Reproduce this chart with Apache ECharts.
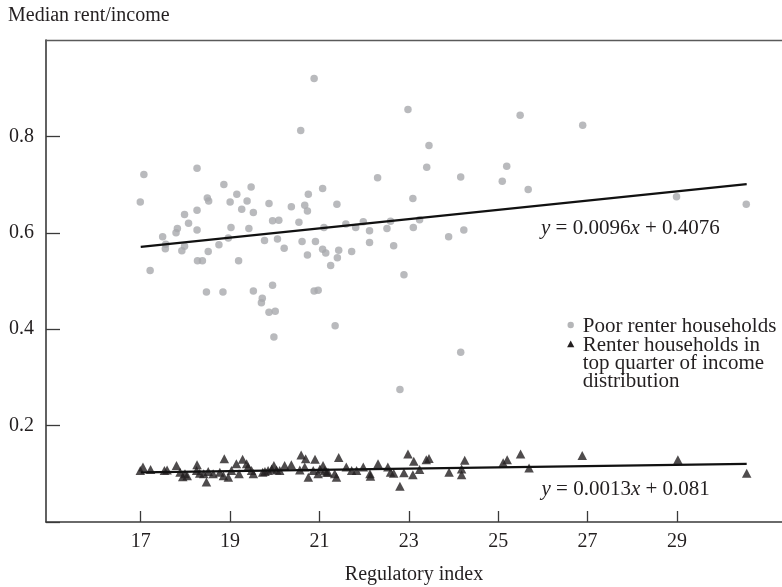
<!DOCTYPE html>
<html>
<head>
<meta charset="utf-8">
<script src="https://cdn.jsdelivr.net/npm/echarts@6/dist/echarts.min.js"></script>
<style>
html,body{margin:0;padding:0;background:#fff;}
#chart{width:782px;height:587px;}
</style>
</head>
<body>
<div id="chart"></div>
<script>
// Poor renter households
const poorX = [17.07,16.99,18.26,18.86,19.47,19.15,18.49,18.52,19.00,19.38,19.87,19.26,18.26,19.52,17.98,18.07,19.95,20.09,17.82,17.79,18.26,19.02,19.42,17.49,17.56,17.55,18.96,17.98,17.92,18.75,18.51,19.77,20.06,17.21,18.27,18.38,19.19,18.47,18.84,19.52,19.95,19.72,19.70,19.87,20.01,19.98,20.88,20.58,22.98,23.45,23.40,24.16,22.30,21.07,20.75,21.39,23.09,20.37,20.67,20.73,20.54,21.10,21.59,21.81,21.98,22.12,22.51,22.59,23.10,23.24,23.89,24.23,20.21,20.61,20.91,21.07,21.14,20.73,21.43,21.40,21.72,22.12,22.66,21.25,22.89,20.88,20.97,21.35,24.16,25.49,26.89,25.19,25.09,25.67,28.99,30.55,22.80];
const poorY = [0.721,0.664,0.734,0.700,0.695,0.680,0.672,0.666,0.664,0.666,0.661,0.649,0.647,0.642,0.638,0.620,0.625,0.626,0.609,0.600,0.606,0.611,0.609,0.592,0.576,0.567,0.589,0.572,0.563,0.575,0.561,0.584,0.587,0.522,0.542,0.542,0.542,0.477,0.477,0.479,0.491,0.464,0.455,0.435,0.437,0.384,0.920,0.812,0.856,0.781,0.736,0.716,0.714,0.692,0.680,0.659,0.671,0.654,0.657,0.645,0.622,0.611,0.618,0.611,0.623,0.604,0.609,0.624,0.611,0.627,0.592,0.606,0.568,0.582,0.582,0.566,0.558,0.554,0.564,0.548,0.561,0.580,0.573,0.532,0.513,0.479,0.481,0.407,0.352,0.844,0.823,0.738,0.707,0.690,0.675,0.659,0.275];
// Renter households in top quarter of income distribution
const topX = [17.05,17.22,16.99,17.53,17.59,17.80,17.88,17.99,17.94,18.04,18.26,18.25,18.32,18.47,18.51,18.41,18.62,18.87,18.77,18.85,18.96,19.03,19.14,19.28,19.37,19.40,19.20,19.52,19.48,19.73,19.78,19.85,19.93,19.98,20.04,20.11,20.22,20.37,20.56,20.59,20.69,20.75,20.67,20.90,20.86,20.97,21.01,21.08,21.16,21.12,21.19,21.34,21.38,21.43,21.60,21.72,21.83,21.98,22.13,22.14,22.31,22.53,22.59,22.66,22.80,22.89,22.98,23.11,23.09,23.24,23.39,23.45,23.90,24.18,24.18,24.25,25.11,25.20,25.50,25.69,26.88,29.02,30.56];
const topY = [0.114,0.109,0.107,0.107,0.108,0.117,0.103,0.100,0.094,0.096,0.119,0.107,0.101,0.083,0.105,0.100,0.100,0.131,0.103,0.096,0.093,0.107,0.121,0.130,0.121,0.114,0.100,0.100,0.107,0.103,0.105,0.107,0.110,0.117,0.108,0.107,0.117,0.119,0.108,0.139,0.131,0.093,0.114,0.130,0.107,0.100,0.110,0.117,0.103,0.107,0.103,0.100,0.093,0.134,0.114,0.107,0.107,0.114,0.100,0.095,0.121,0.114,0.103,0.101,0.074,0.102,0.141,0.126,0.098,0.109,0.129,0.132,0.103,0.110,0.098,0.128,0.123,0.129,0.141,0.112,0.138,0.129,0.101];
// Fitted lines (slope, intercept) and x-range
const fitSlopes = [0.0096, 0.0013];
const fitIntercepts = [0.4076, 0.081];
const fitRange = [17.0, 30.56];
const xTicks = [17,19,21,23,25,27,29];
const yTicks = [0.2,0.4,0.6,0.8];
const legendNames = ['Poor renter households', 'Renter households in\ntop quarter of income\ndistribution'];

const FONT = 'Liberation Serif';
const TXT = '#231f20';
const GRAY = '#a7a9ac';

const pair = (xs, ys) => xs.map((x, i) => [x, ys[i]]);
const fitLine = k => fitRange.map(x => [x, fitSlopes[k] * x + fitIntercepts[k]]);

const chart = echarts.init(document.getElementById('chart'), null, {renderer: 'canvas'});
chart.setOption({
  animation: false,
  backgroundColor: '#fff',
  grid: {left: 46, top: 40, right: 0, bottom: 65, containLabel: false, outerBoundsMode: 'none'},
  xAxis: [{
    type: 'value', min: 14.88, max: 31.35,
    axisLine: {show: true, lineStyle: {color: '#3a3a3a', width: 1.6}},
    axisTick: {show: true, inside: true, length: 11, lineStyle: {color: '#3a3a3a', width: 1.3}, customValues: xTicks},
    axisLabel: {show: true, margin: 10, color: TXT, fontFamily: FONT, fontSize: 20, customValues: xTicks, formatter: v => String(v)},
    splitLine: {show: false},
    name: 'Regulatory index', nameLocation: 'middle', nameGap: 43,
    nameTextStyle: {color: TXT, fontFamily: FONT, fontSize: 20}
  }, {
    type: 'value', position: 'top', min: 14.88, max: 31.35,
    axisLine: {show: true, lineStyle: {color: '#5a5a5a', width: 1.4}},
    axisTick: {show: false}, axisLabel: {show: false}, splitLine: {show: false}
  }],
  yAxis: {
    type: 'value', min: 0, max: 1,
    axisLine: {show: true, lineStyle: {color: '#3a3a3a', width: 1.6}},
    axisTick: {show: true, inside: true, length: 14, lineStyle: {color: '#3a3a3a', width: 1.3}, customValues: [0].concat(yTicks)},
    axisLabel: {show: true, margin: 12, color: TXT, fontFamily: FONT, fontSize: 20, customValues: yTicks, formatter: v => v.toFixed(1)},
    splitLine: {show: false}
  },
  series: [
    {type: 'scatter', name: legendNames[0], data: pair(poorX, poorY), symbol: 'circle', symbolSize: 7.5,
     itemStyle: {color: GRAY}, z: 2},
    {type: 'scatter', name: legendNames[1], data: pair(topX, topY), symbol: 'triangle', symbolSize: [9.5, 9],
     itemStyle: {color: TXT}, z: 3},
    {type: 'line', data: fitLine(0), symbol: 'none', lineStyle: {color: '#111', width: 2.2}, z: 4},
    {type: 'line', data: fitLine(1), symbol: 'none', lineStyle: {color: '#111', width: 2.2}, z: 4}
  ],
  graphic: [
    {type: 'text', x: 8, y: 16, style: {text: 'Median rent/income', fill: TXT, font: '20px "Liberation Serif"', verticalAlign: 'middle'}},
    {type: 'circle', shape: {cx: 570.7, cy: 325, r: 3.2}, style: {fill: '#b5b6b8'}},
    {type: 'text', x: 582.7, y: 326, style: {text: legendNames[0], fill: TXT, font: '21px "Liberation Serif"', verticalAlign: 'middle'}},
    {type: 'polygon', shape: {points: [[570.7, 340.5], [574.3, 347.2], [567.1, 347.2]]}, style: {fill: TXT}},
    {type: 'text', x: 582.7, y: 336, style: {text: legendNames[1], fill: TXT, font: '21px "Liberation Serif"', lineHeight: 18, verticalAlign: 'top'}},
    {type: 'text', x: 541, y: 228, style: {
      rich: {i: {fontStyle: 'italic', fontFamily: FONT, fontSize: 21, fill: TXT}, n: {fontFamily: FONT, fontSize: 21, fill: TXT}},
      text: '{i|y}{n| = 0.0096}{i|x}{n| + 0.4076}', verticalAlign: 'middle'}},
    {type: 'text', x: 541.5, y: 489, style: {
      rich: {i: {fontStyle: 'italic', fontFamily: FONT, fontSize: 21, fill: TXT}, n: {fontFamily: FONT, fontSize: 21, fill: TXT}},
      text: '{i|y}{n| = 0.0013}{i|x}{n| + 0.081}', verticalAlign: 'middle'}}
  ]
});
</script>
</body>
</html>
